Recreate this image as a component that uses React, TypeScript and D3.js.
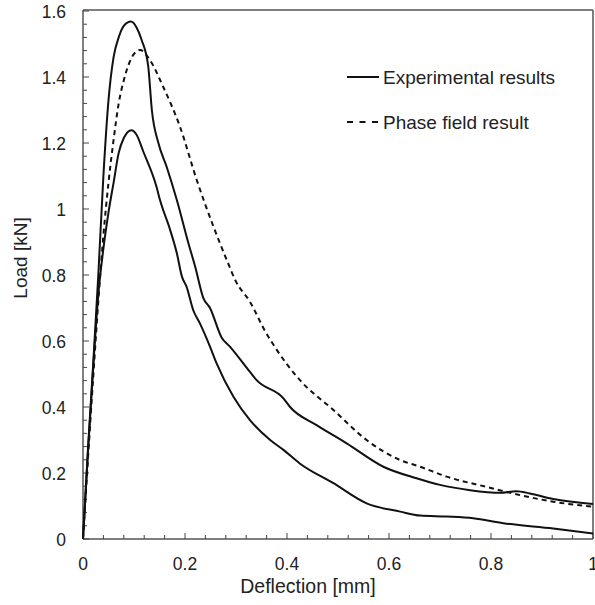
import React from "react";
import * as d3 from "d3";

const xTicks = [0, 0.2, 0.4, 0.6, 0.8, 1];
const yTicks = [0, 0.2, 0.4, 0.6, 0.8, 1, 1.2, 1.4, 1.6];
const legendLabels = ["Experimental results", "Phase field result"];

const expUpperX = [0, 0.01, 0.02, 0.03, 0.04, 0.05, 0.06, 0.07, 0.08, 0.094, 0.105, 0.115, 0.128, 0.135, 0.148, 0.164, 0.184, 0.206, 0.22, 0.236, 0.249, 0.272, 0.288, 0.327, 0.34, 0.393, 0.406, 0.458, 0.517, 0.589, 0.654, 0.7, 0.759, 0.818, 0.85, 0.876, 0.922, 1.0];
const expUpperY = [0, 0.28, 0.53, 0.8, 1.1, 1.33, 1.46, 1.52, 1.555, 1.568, 1.55, 1.512, 1.431, 1.3, 1.199, 1.128, 1.027, 0.9, 0.825, 0.73, 0.7, 0.61, 0.583, 0.507, 0.482, 0.426, 0.4, 0.345, 0.29, 0.219, 0.184, 0.164, 0.148, 0.14, 0.145, 0.138, 0.121, 0.106];

const expLowerX = [0, 0.01, 0.02, 0.03, 0.04, 0.05, 0.06, 0.07, 0.08, 0.095, 0.105, 0.118, 0.144, 0.151, 0.171, 0.184, 0.194, 0.203, 0.216, 0.229, 0.249, 0.262, 0.295, 0.327, 0.367, 0.393, 0.425, 0.491, 0.556, 0.622, 0.661, 0.713, 0.765, 0.824, 0.922, 1.0];
const expLowerY = [0, 0.27, 0.52, 0.74, 0.88, 0.99, 1.08, 1.17, 1.215, 1.239, 1.225, 1.175, 1.068, 1.027, 0.936, 0.866, 0.795, 0.765, 0.694, 0.654, 0.583, 0.532, 0.431, 0.361, 0.3, 0.27, 0.229, 0.169, 0.108, 0.083, 0.071, 0.068, 0.063, 0.048, 0.032, 0.017];

const phaseX = [0, 0.01, 0.02, 0.03, 0.04, 0.05, 0.06, 0.07, 0.08, 0.09, 0.1, 0.112, 0.131, 0.157, 0.19, 0.223, 0.256, 0.282, 0.3, 0.327, 0.357, 0.38, 0.425, 0.491, 0.556, 0.622, 0.661, 0.713, 0.791, 0.857, 0.922, 1.0];
const phaseY = [0, 0.25, 0.49, 0.72, 0.92, 1.08, 1.21, 1.32, 1.39, 1.44, 1.47, 1.482, 1.452, 1.371, 1.25, 1.088, 0.946, 0.845, 0.78, 0.72, 0.63, 0.573, 0.482, 0.391, 0.3, 0.239, 0.219, 0.189, 0.158, 0.133, 0.113, 0.098];

const W = 595, H = 605;
const L = 83, R = 593, T = 11, B = 539;

export default function App() {
  const x = d3.scaleLinear().domain([0, 1]).range([L, R]);
  const y = d3.scaleLinear().domain([0, 1.6]).range([B, T]);
  const line = d3.line<[number, number]>().x(d => x(d[0])).y(d => y(d[1])).curve(d3.curveMonotoneX);
  const zip = (a: number[], b: number[]) => a.map((v, i) => [v, b[i]] as [number, number]);
  const font = "'Liberation Sans', Arial, sans-serif";
  const xMinor = d3.range(0, 1.0001, 0.04);
  const yMinor = d3.range(0, 1.6001, 0.04);
  const isMajor = (v: number, step: number) => Math.abs(v / step - Math.round(v / step)) < 1e-6;
  return (
    <svg width={W} height={H} style={{ position: "absolute", left: 0, top: 0, background: "#fff" }} fontFamily={font}>
      <rect x={0} y={0} width={W} height={H} fill="#fff" />
      {/* frame */}
      <line x1={L} x2={R} y1={T - 1} y2={T - 1} stroke="#555" strokeWidth={1.5} />
      <line x1={R} x2={R} y1={T - 1} y2={B} stroke="#555" strokeWidth={1.5} />
      <line x1={L} x2={L} y1={T - 1} y2={B} stroke="#555" strokeWidth={1.5} />
      <line x1={L} x2={R} y1={B} y2={B} stroke="#555" strokeWidth={1.5} />
      {xMinor.map((v, i) => (
        <line key={"xm" + i} x1={x(v)} x2={x(v)} y1={B} y2={B - (isMajor(v, 0.2) ? 6 : 4)} stroke="#444" strokeWidth={1} />
      ))}
      {yMinor.map((v, i) => (
        <line key={"ym" + i} x1={L} x2={L + (isMajor(v, 0.2) ? 6 : 4)} y1={y(v)} y2={y(v)} stroke="#444" strokeWidth={1} />
      ))}
      {xTicks.map((v, i) => (
        <text key={"xt" + i} x={x(v)} y={570} textAnchor="middle" fontSize={17.5} fill="#222">{d3.format("~g")(v)}</text>
      ))}
      {yTicks.map((v, i) => (
        <text key={"yt" + i} x={66} y={y(v) + 6.5} textAnchor="end" fontSize={17.5} fill="#222">{d3.format("~g")(v)}</text>
      ))}
      <text x={308} y={593} textAnchor="middle" fontSize={19.5} fill="#222">Deflection [mm]</text>
      <text transform={`translate(27,258) rotate(-90)`} textAnchor="middle" fontSize={19} fill="#222">Load [kN]</text>
      {/* curves */}
      <path d={line(zip(expUpperX, expUpperY)) || ""} fill="none" stroke="#111" strokeWidth={2} />
      <path d={line(zip(expLowerX, expLowerY)) || ""} fill="none" stroke="#111" strokeWidth={2} />
      <path d={line(zip(phaseX, phaseY)) || ""} fill="none" stroke="#111" strokeWidth={2} strokeDasharray="5,4" />
      {/* legend */}
      <line x1={347} x2={379} y1={77} y2={77} stroke="#111" strokeWidth={2} />
      <text x={383} y={84} fontSize={19} fill="#222">{legendLabels[0]}</text>
      <line x1={347} x2={379} y1={122} y2={122} stroke="#111" strokeWidth={2} strokeDasharray="6,6.5" />
      <text x={383} y={129} fontSize={19} fill="#222">{legendLabels[1]}</text>
    </svg>
  );
}
